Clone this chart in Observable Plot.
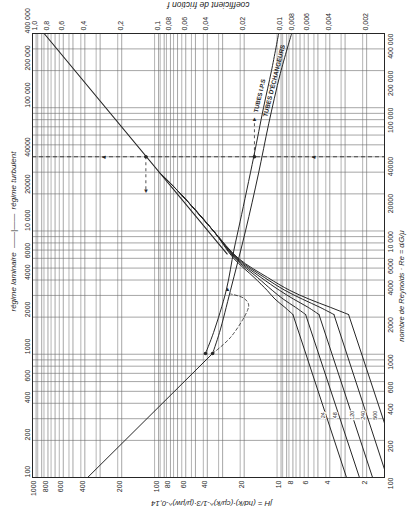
<!DOCTYPE html>
<html><head><meta charset="utf-8">
<script src="https://cdn.jsdelivr.net/npm/d3@7"></script>
<script src="https://cdn.jsdelivr.net/npm/@observablehq/plot@0.6"></script>
<style>body{margin:0;background:#fff}svg{display:block}</style>
</head><body><div id="chart"></div>
<script>
// ---- tick labels ----
const reTicks = [100,200,400,600,1000,2000,4000,6000,10000,20000,40000,100000,200000,400000];
const reTickLabels = ["100","200","400","600","1000","2000","4000","6000","10 000","20000","40000","100 000","200 000","400 000"];
const jhTicks = [1000,800,600,400,200,100,80,60,40,20,10,8,6,4,2];
const jhTickLabels = ["1000","800","600","400","200","100","80","60","40","20","10","8","6","4","2"];
const fTicks = [1.0,0.8,0.6,0.4,0.2,0.1,0.08,0.06,0.04,0.02,0.01,0.008,0.006,0.004,0.002];
const fTickLabels = ["1,0","0,8","0,6","0,4","0,2","0,1","0,08","0,06","0,04","0,02","0,01","0,008","0,006","0,004","0,002"];
// ---- grid values ----
const reGrid = [100,200,300,400,500,600,700,800,900,1000,2000,3000,4000,5000,6000,7000,8000,9000,10000,20000,30000,40000,50000,60000,70000,80000,90000,100000,200000,300000,400000];
const jhGrid = [2,3,4,5,6,7,8,9,10,20,30,40,50,60,70,80,90,100,200,300,400,500,600,700,800,900,1000];
const fGrid = [0.002,0.003,0.004,0.005,0.006,0.007,0.008,0.009,0.01,0.02,0.03,0.04,0.05,0.06,0.07,0.08,0.09,0.1,0.2,0.3,0.4,0.5,0.6,0.7,0.8,0.9];
const F2J = 1078; // position of f on the jH scale (f = 1 at jH ≈ 1078)

// ---- jH curves : L/D ----
const ldLabels = ["24","48","120","240","500"];
const lamRe = [100, 2100];
const lamJhAt100 = [2.92, 2.29, 1.79, 1.36, 1.02];
const transRe = [2100, 2400, 2800, 3300, 4200, 6000, 10000, 20000, 30000];
const transJh24  = [8.0, 9.3, 11.2, 13.0, 16.6, 24.4, 35.6, 66, 99];
const transJh48  = [6.3, 7.6, 9.6, 11.8, 15.6, 23.8, 35.6, 66, 99];
const transJh120 = [4.9, 6.0, 7.9, 10.3, 14.6, 23.3, 35.6, 66, 99];
const transJh240 = [3.7, 4.8, 6.7, 9.3, 13.7, 22.8, 35.6, 66, 99];
const transJh500 = [2.81, 3.95, 5.9, 8.5, 12.9, 22.3, 35.6, 66, 99];
const ldLabelRe = 320;
const ldLabelJh = [4.5, 3.59, 2.61, 2.12, 1.69];
// turbulent jH line
const turbRe = [6500, 400000];
const turbJh = [27.5, 860];

// ---- friction curves ----
const fLamRe = [100, 1014];
const fLam = [0.352, 0.0336];
const fIpsRe = [1014, 1500, 3300, 7000, 12000, 40000, 100000, 200000, 400000];
const fIps = [0.0384, 0.033, 0.026, 0.0225, 0.020, 0.0155, 0.0129, 0.0111, 0.0097];
const fEchRe = [1014, 1500, 3300, 10000, 29000, 74000, 190000, 400000];
const fEch = [0.0336, 0.0295, 0.024, 0.0181, 0.0142, 0.0117, 0.0094, 0.0076];

// ---- worked examples (dashed) ----
const exRe = 40000;
const exJh = 127, exJhDownTo = 21500;
const exF = 0.0153, exFUpTo = 80000;
const exArrowLeftJh = [281, 5.43];
const ex2Re = [1014, 1375, 2280, 2550, 2850, 3080];
const ex2F = [0.0336, 0.0239, 0.0174, 0.0171, 0.0187, 0.0239];
const ex2ArrowRe = 3350, ex2ArrowF = 0.0254;

// build tables
const transSets = [transJh24, transJh48, transJh120, transJh240, transJh500];
const lamRows = [], transRows = [];
ldLabels.forEach((ld, i) => {
  lamRows.push({ld, re: lamRe[0], jh: lamJhAt100[i]}, {ld, re: lamRe[1], jh: transSets[i][0]});
  transRe.forEach((re, j) => transRows.push({ld, re, jh: transSets[i][j]}));
});
const turbRows = turbRe.map((re, i) => ({re, jh: turbJh[i]}));
const fLamRows = fLamRe.map((re, i) => ({re, f: fLam[i]}));
const fIpsRows = fIpsRe.map((re, i) => ({re, f: fIps[i]}));
const fEchRows = fEchRe.map((re, i) => ({re, f: fEch[i]}));
const ex2Rows = ex2Re.map((re, i) => ({re, f: ex2F[i]}));

const INK = "#262626", GRID = "#6a6a6a";
const FONT = "Liberation Sans, Arial, sans-serif";

const chart = Plot.plot({
  width: 413, height: 512,
  marginTop: 33, marginBottom: 35, marginLeft: 32, marginRight: 29,
  x: {type: "log", domain: [1070, 1.43], axis: null},
  y: {type: "log", domain: [100, 400000], axis: null},
  style: {fontFamily: FONT, background: "#fff"},
  marks: [
    Plot.ruleY(reGrid, {stroke: GRID, strokeWidth: 0.6}),
    Plot.ruleX(jhGrid, {stroke: GRID, strokeWidth: 0.6}),
    Plot.ruleX(fGrid, {x: d => d * F2J, stroke: GRID, strokeWidth: 0.5}),
    // L/D laminar lines
    Plot.line(lamRows, {x: "jh", y: "re", z: "ld", stroke: INK, strokeWidth: 1, clip: true}),
    Plot.line(transRows, {x: "jh", y: "re", z: "ld", stroke: INK, strokeWidth: 1, curve: "catmull-rom", clip: true}),
    Plot.line(turbRows, {x: "jh", y: "re", stroke: INK, strokeWidth: 1.1, clip: true}),
    // friction
    Plot.line(fLamRows, {x: d => d.f * F2J, y: "re", stroke: INK, strokeWidth: 1, clip: true}),
    Plot.line(fIpsRows, {x: d => d.f * F2J, y: "re", stroke: INK, strokeWidth: 1, curve: "catmull-rom", clip: true}),
    Plot.line(fEchRows, {x: d => d.f * F2J, y: "re", stroke: INK, strokeWidth: 1, curve: "catmull-rom", clip: true}),
    // examples
    Plot.ruleY([exRe], {stroke: INK, strokeWidth: 0.8, strokeDasharray: "4,3"}),
    Plot.ruleX([exJh], {y1: exRe, y2: exJhDownTo, stroke: INK, strokeWidth: 0.8, strokeDasharray: "3,3"}),
    Plot.ruleX([exF], {x: d => d * F2J, y1: exRe, y2: exFUpTo, stroke: INK, strokeWidth: 0.8, strokeDasharray: "3,3"}),
    Plot.line(ex2Rows, {x: d => d.f * F2J, y: "re", stroke: INK, strokeWidth: 0.8, strokeDasharray: "3,2.5", curve: "catmull-rom"}),
    Plot.dot([{re: exRe, x: exJh}, {re: exRe, x: exF * F2J}, {re: fIpsRe[0], x: fIps[0] * F2J}, {re: fEchRe[0], x: fEch[0] * F2J}],
      {x: "x", y: "re", r: 1.8, fill: INK, stroke: "none"}),
    Plot.text(["▼"], {x: exJh, y: exJhDownTo, text: d => d, fontSize: 6, fill: INK, dy: 1}),
    Plot.text(["▲"], {x: exF * F2J, y: exFUpTo, text: d => d, fontSize: 6, fill: INK, dy: -1}),
    Plot.text(exArrowLeftJh, {x: d => d, y: exRe, text: () => "◄", fontSize: 6, fill: INK}),
    Plot.text(["▲"], {x: ex2ArrowF * F2J, y: ex2ArrowRe, text: d => d, fontSize: 6, fill: INK}),
    // curve labels
    Plot.text(ldLabels, {x: (d, i) => ldLabelJh[i], y: ldLabelRe, text: d => d, rotate: -90, fontSize: 5.5, fill: INK, stroke: "white", strokeWidth: 2}),
    Plot.text(["TUBES I.P.S"], {x: 0.0131 * F2J, y: 125000, dx: -3, text: d => d, rotate: -77, fontSize: 6, fontWeight: "bold", fill: INK}),
    Plot.text(["TUBES D'ÉCHANGEURS"], {x: 0.0098 * F2J, y: 165000, dx: -4, text: d => d, rotate: -76, fontSize: 6.3, fontWeight: "bold", fill: INK}),
    // tick labels
    Plot.text(jhTicks, {x: d => d, frameAnchor: "bottom", dy: 3, text: (d, i) => jhTickLabels[i], rotate: -90, textAnchor: "end", fontSize: 7, fill: INK}),
    Plot.text(fTicks, {x: d => d * F2J, frameAnchor: "top", dy: -3, text: (d, i) => fTickLabels[i], rotate: -90, textAnchor: "start", fontSize: 7, fill: INK}),
    Plot.text(reTicks, {y: d => d, frameAnchor: "left", dx: -5, text: (d, i) => reTickLabels[i], rotate: -90, fontSize: 7, fill: INK}),
    Plot.text(reTicks, {y: d => d, frameAnchor: "right", dx: 6, text: (d, i) => reTickLabels[i], rotate: -90, fontSize: 7, fill: INK}),
    // titles
    Plot.text(["coefficient de friction f"], {frameAnchor: "top", dy: -25, text: d => d, rotate: 180, fontSize: 8.5, fontStyle: "italic", fill: INK}),
    Plot.text(["jH = (hd/k)·(cμ/k)^-1/3·(μ/μw)^-0,14"], {frameAnchor: "bottom", dy: 23, dx: 3, text: d => d, rotate: 180, fontSize: 7.8, fontStyle: "italic", fill: INK}),
    Plot.text(["nombre de Reynolds · Re = dᵢG/μ"], {frameAnchor: "right", dx: 17, dy: -25, text: d => d, rotate: -90, fontSize: 7.5, fontStyle: "italic", fill: INK}),
    Plot.text(["régime laminaire  ——|——  régime turbulent"], {frameAnchor: "left", dx: -19, dy: 56, text: d => d, rotate: -90, fontSize: 8, fontStyle: "italic", fill: INK}),
    Plot.frame({stroke: INK, strokeWidth: 1})
  ]
});
document.getElementById("chart").append(chart);
</script>
</body></html>
